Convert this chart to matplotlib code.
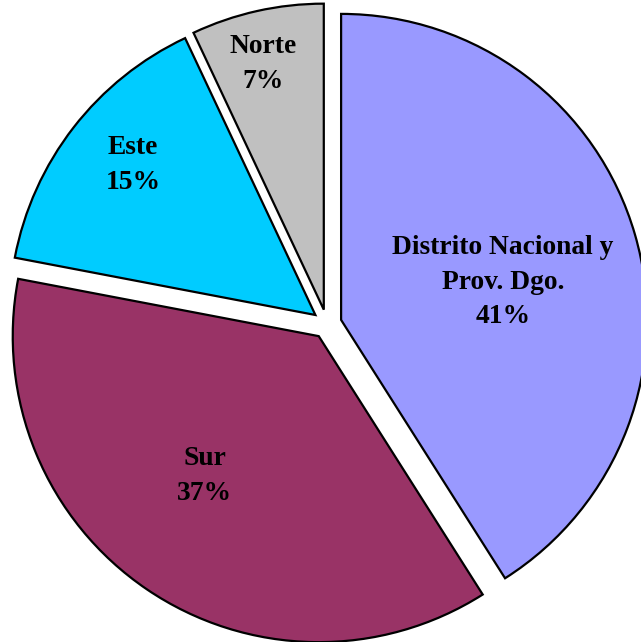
import matplotlib.pyplot as plt

# regions and shares (%)
labels = ["Distrito Nacional y\nProv. Dgo.", "Sur", "Este", "Norte"]
values = [41, 37, 15, 7]
colors = ["#9999FF", "#993366", "#00CCFF", "#C0C0C0"]

# where the labels sit (data units, pie radius = 1)
label_pos = [(0.575, 0.136), (-0.399, -0.497), (-0.634, 0.520), (-0.209, 0.850)]

fig = plt.figure(figsize=(6.41, 6.42), dpi=100)
ax = fig.add_axes([0, 0, 1, 1])

ax.pie(values, colors=colors, startangle=90, counterclock=False,
       explode=[0.048] * len(values), radius=1.0,
       wedgeprops=dict(edgecolor="black", linewidth=1.6))

for lab, v, (x, y) in zip(labels, values, label_pos):
    ax.text(x, y, f"{lab}\n{v}%", ha="center", va="center",
            fontsize=19.8, fontweight="bold", family="Liberation Serif",
            linespacing=1.5)

# pie centre sits at about (327, 324) px, radius ~306 px
ax.set_xlim(-327 / 306, (641 - 327) / 306)
ax.set_ylim(-(642 - 324) / 306, 324 / 306)
ax.set_aspect("auto")
ax.axis("off")

fig.savefig("out.png", dpi=100)
